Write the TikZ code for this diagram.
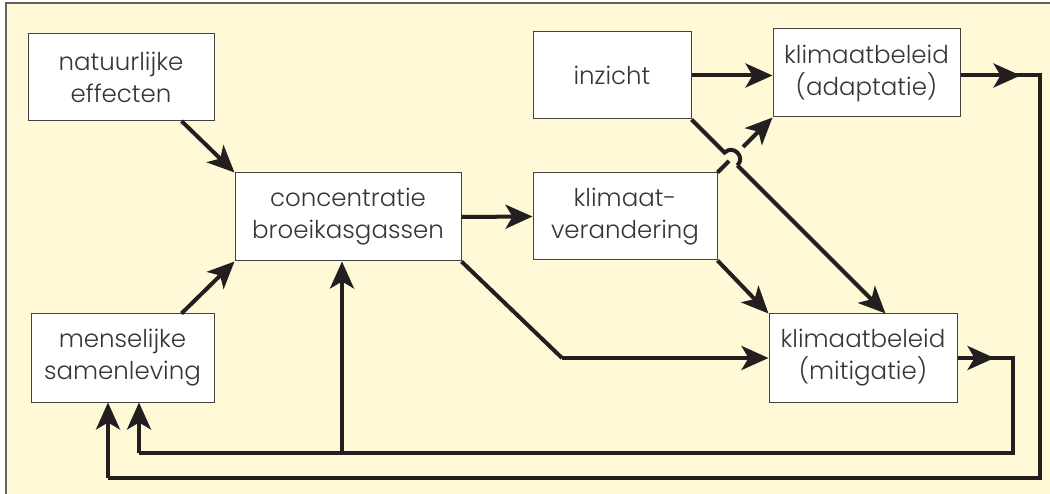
\documentclass[tikz,border=0pt]{standalone}
\usepackage{fontspec}
\setmainfont{Poppins Light}
\usetikzlibrary{arrows.meta,calc}
\definecolor{cream}{RGB}{255,249,215}
\definecolor{ink}{RGB}{35,31,32}
\tikzset{
  box/.style={draw=ink!85, line width=1pt, fill=white, align=center, inner sep=0pt,
    text=ink!90, font=\fontsize{24.5}{32}\selectfont},
  conn/.style={draw=ink, line width=4pt, line join=miter},
  arr/.style={conn, -{Stealth[length=27pt,width=24pt,inset=7pt]}},
}
\begin{document}
\begin{tikzpicture}[x=1pt,y=-1pt]
\useasboundingbox (0,0) rectangle (1050,494);
\fill[white] (0,0) rectangle (1050,494);
\fill[cream] (6,3) rectangle (1050,494);
\draw[ink!70, line width=1.4pt] (6,497) -- (6,3) -- (1053,3);

\node[box, minimum width=186pt, minimum height=87pt] (nat) at (121,77) {natuurlijke\\effecten};
\node[box, minimum width=226pt, minimum height=88pt] (conc) at (348,217) {concentratie\\broeikasgassen};
\node[box, minimum width=158pt, minimum height=87pt] (inz) at (612,75.5) {inzicht};
\node[box, minimum width=184pt, minimum height=87pt] (kv) at (625,216.5) {klimaat-\\verandering};
\node[box, minimum width=187pt, minimum height=88pt] (adap) at (866.5,73) {klimaatbeleid\\(adaptatie)};
\node[box, minimum width=183pt, minimum height=88pt] (mens) at (122.5,358) {menselijke\\samenleving};
\node[box, minimum width=188pt, minimum height=88pt] (mit) at (863,358) {klimaatbeleid\\(mitigatie)};

% left side inputs
\draw[arr] ([xshift=-33pt]nat.south east) -- (conc.north west);
\draw[arr] ([xshift=-33pt]mens.north east) -- (conc.south west);
\draw[arr] (conc.east) -- (kv.west);
\draw[arr] (inz.east) -- (inz.east -| adap.west);

% concentratie -> mitigatie
\coordinate (cm) at (562,358);
\draw[conn] (conc.south east) -- (cm);
\draw[arr] (cm) -- (mit.west);

% klimaatverandering -> mitigatie
\draw[arr] (kv.south east) -- (mit.north west);

% inzicht -> mitigatie with hop, klimaatverandering -> adaptatie
\coordinate (mt) at ([xshift=117pt]mit.north west);
\coordinate (cr) at (intersection cs: first line={(inz.south east)--(mt)}, second line={(kv.north east)--(adap.south west)});
\draw[conn] (inz.south east) -- ($(cr)+(-6.4,-6.4)$)
  .. controls ($(cr)+(2.1,-14.9)$) and ($(cr)+(14.9,-2.1)$) .. ($(cr)+(6.4,6.4)$);
\draw[arr] ($(cr)+(6.4,6.4)$) -- (mt);
\draw[conn] (kv.north east) -- ($(cr)+(-2,2)$);
\draw[arr] ($(cr)+(12,-12)$) -- (adap.south west);

% outer loop: adaptatie -> menselijke samenleving
\coordinate (a1) at (adap.east |- inz.east);
\coordinate (o1) at (1040,75.5);
\coordinate (o2) at (1040,478);
\coordinate (o3) at (108,478);
\draw[conn] (a1) -- (o1) -- (o2) -- (o3);
\draw[arr] (a1) -- ([xshift=60pt]a1);
\draw[arr] (o3) -- (o3 |- mens.south);

% inner loop: mitigatie -> menselijke samenleving and concentratie
\coordinate (i1) at (1013,358);
\coordinate (i2) at (1013,453);
\coordinate (i3) at (139,453);
\coordinate (i4) at (342,453);
\draw[conn] (mit.east) -- (i1) -- (i2) -- (i3);
\draw[arr] (mit.east) -- ([xshift=37pt]mit.east);
\draw[arr] (i3) -- (i3 |- mens.south);
\draw[arr] (i4) -- (i4 |- conc.south);
\end{tikzpicture}
\end{document}
